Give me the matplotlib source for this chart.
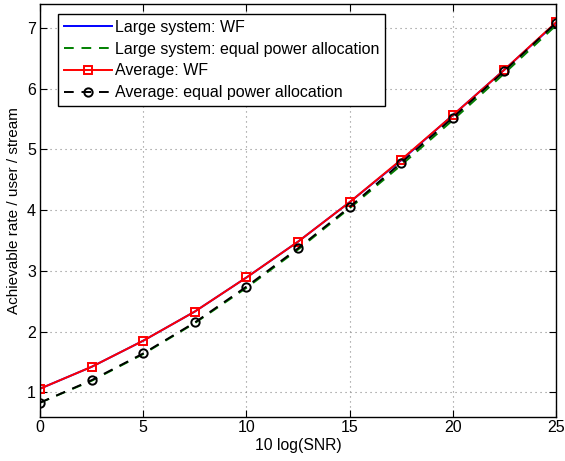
import numpy as np
import matplotlib
matplotlib.use("Agg")
import matplotlib.pyplot as plt

plt.rcParams['font.family'] = ['Liberation Sans', 'DejaVu Sans']

snr_db = [0, 2.5, 5, 7.5, 10, 12.5, 15, 17.5, 20, 22.5, 25]
large_wf = [1.06, 1.42, 1.85, 2.33, 2.89, 3.48, 4.13, 4.82, 5.56, 6.31, 7.08]
large_ep = [0.83, 1.19, 1.63, 2.14, 2.72, 3.35, 4.03, 4.74, 5.48, 6.25, 7.04]
avg_wf = [1.06, 1.42, 1.85, 2.33, 2.89, 3.48, 4.13, 4.83, 5.56, 6.31, 7.09]
avg_ep = [0.83, 1.20, 1.64, 2.15, 2.74, 3.37, 4.05, 4.78, 5.52, 6.29, 7.08]

fig = plt.figure(figsize=(5.65, 4.61), dpi=100)
ax = fig.add_axes([0.071, 0.095, 0.913, 0.896])

dash = (0, (5, 4))
ax.plot(snr_db, large_wf, '-', color='blue', lw=1.4, label='Large system: WF')
ax.plot(snr_db, large_ep, linestyle=dash, color=(0, 0.5, 0), lw=1.4, label='Large system: equal power allocation')
ax.plot(snr_db, avg_wf, '-s', color='red', lw=1.4, ms=6, mfc='none', mew=1.4, label='Average: WF')
ax.plot(snr_db, avg_ep, marker='o', linestyle=dash, color='black', lw=1.4, ms=6, mfc='none', mew=1.4,
        label='Average: equal power allocation')

ax.set_xlim(0, 25)
ax.set_ylim(0.59, 7.39)
ax.set_xticks([0, 5, 10, 15, 20, 25])
ax.set_yticks([1, 2, 3, 4, 5, 6, 7])
ax.grid(True, linestyle=(0, (1, 3.5)), color='#888888', lw=0.8)
ax.tick_params(direction='in', top=True, right=True, labelsize=11.5, length=5)
ax.tick_params(axis='x', pad=2)
ax.tick_params(axis='y', pad=3)
for s in ax.spines.values():
    s.set_linewidth(1.0)
ax.set_xlabel('10 log(SNR)', fontsize=11.3, labelpad=2)
ax.set_ylabel('Achievable rate / user / stream', fontsize=11, labelpad=4)

leg = ax.legend(loc='upper left', fontsize=11.5, handlelength=3.0, fancybox=False,
                edgecolor='black', framealpha=1, bbox_to_anchor=(0.035, 0.975),
                borderaxespad=0, labelspacing=0.42, handletextpad=0.2, borderpad=0.35)
leg.get_frame().set_linewidth(1.0)

fig.savefig('out.png', dpi=100)
